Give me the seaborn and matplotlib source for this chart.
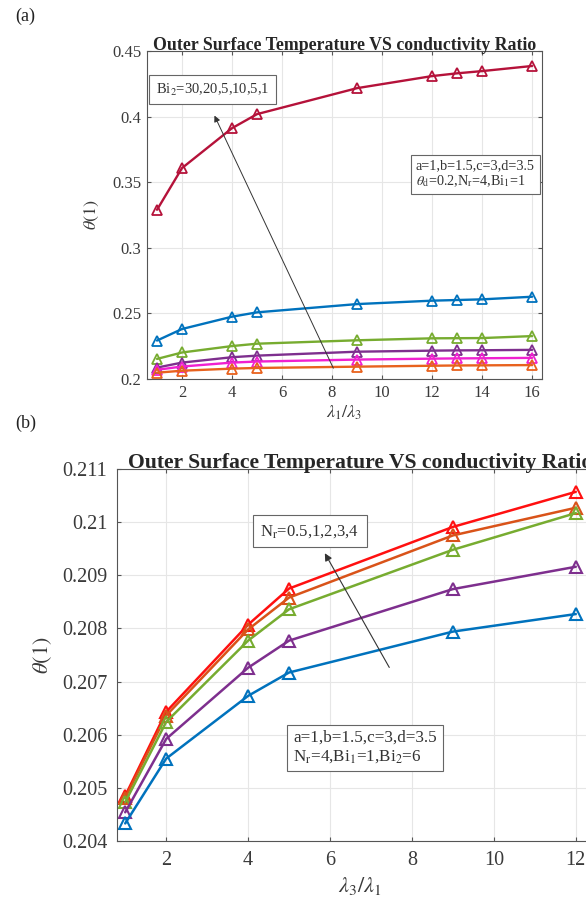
import numpy as np
import pandas as pd
import matplotlib
matplotlib.use("Agg")
import matplotlib.pyplot as plt
import seaborn as sns

# ---------------- data ----------------
x_a = [1, 2, 4, 5, 9, 12, 13, 14, 16]
a_red     = [0.3290, 0.3608, 0.3912, 0.4019, 0.4217, 0.4309, 0.4330, 0.4347, 0.4386]
a_blue    = [0.2293, 0.2381, 0.2475, 0.2508, 0.2571, 0.2597, 0.2602, 0.2607, 0.2627]
a_green   = [0.2153, 0.2202, 0.2251, 0.2269, 0.2295, 0.2310, 0.2311, 0.2312, 0.2327]
a_purple  = [0.2087, 0.2125, 0.2166, 0.2178, 0.2208, 0.2216, 0.2218, 0.2219, 0.2222]
a_magenta = [0.2070, 0.2095, 0.2125, 0.2133, 0.2148, 0.2155, 0.2157, 0.2158, 0.2161]
a_orange  = [0.2048, 0.2063, 0.2079, 0.2084, 0.2094, 0.2101, 0.2103, 0.2104, 0.2106]
a_names   = ["Bi2=30", "Bi2=20", "Bi2=10", "Bi2=5", "Bi2=5b", "Bi2=1"]
a_colors  = ["#B5123A", "#0072BD", "#77AC30", "#7E2F8E", "#F020D0", "#E8621E"]

x_b = [1, 2, 4, 5, 9, 12]
b_red    = [0.20485, 0.20643, 0.20807, 0.20875, 0.20991, 0.21057]
b_orange = [0.20481, 0.20636, 0.20798, 0.20858, 0.20975, 0.21027]
b_green  = [0.20473, 0.20624, 0.20777, 0.20836, 0.20948, 0.21017]
b_purple = [0.20454, 0.20592, 0.20726, 0.20777, 0.20874, 0.20916]
b_blue   = [0.20433, 0.20555, 0.20673, 0.20717, 0.20794, 0.20827]
b_names  = ["Nr=4", "Nr=3", "Nr=2", "Nr=1", "Nr=0.5"]
b_colors = ["#FF1010", "#D95319", "#77AC30", "#7E2F8E", "#0072BD"]

a_yticks = [0.2, 0.25, 0.3, 0.35, 0.4, 0.45]
a_yticklabels = ["0.2", "0.25", "0.3", "0.35", "0.4", "0.45"]
a_xticks = [2, 4, 6, 8, 10, 12, 14, 16]
b_yticks = [0.204, 0.205, 0.206, 0.207, 0.208, 0.209, 0.21, 0.211]
b_yticklabels = ["0.204", "0.205", "0.206", "0.207", "0.208", "0.209", "0.21", "0.211"]
b_xticks = [2, 4, 6, 8, 10, 12]

title_txt = "Outer Surface Temperature VS conductivity Ratio"

# ---------------- style ----------------
sns.set_style("ticks")
plt.rcParams["font.family"] = ["Liberation Serif", "DejaVu Serif"]
plt.rcParams["mathtext.fontset"] = "stix"

df_a = pd.DataFrame({
    "x": np.tile(x_a, 6),
    "y": a_red + a_blue + a_green + a_purple + a_magenta + a_orange,
    "s": np.repeat(a_names, len(x_a)),
})
df_b = pd.DataFrame({
    "x": np.tile(x_b, 5),
    "y": b_red + b_orange + b_green + b_purple + b_blue,
    "s": np.repeat(b_names, len(x_b)),
})

fig = plt.figure(figsize=(5.86, 9.0), dpi=100)
ax1 = fig.add_axes([0.2509, 0.5789, 0.6741, 0.3644])
ax2 = fig.add_axes([0.1997, 0.0656, 0.8290, 0.4133])

grid_kw = dict(color="#E6E6E6", linewidth=0.8)

def style_axes(ax, fs, pad):
    ax.grid(True, **grid_kw)
    ax.set_axisbelow(True)
    for sp in ax.spines.values():
        sp.set_visible(True)
        sp.set_color("#555555")
        sp.set_linewidth(0.8)
    ax.tick_params(direction="in", top=True, right=True, length=3,
                   color="#555555", labelsize=fs, labelcolor="#3a3a3a", pad=pad)

# ---------------- panel (a) ----------------
sns.lineplot(data=df_a, x="x", y="y", hue="s", palette=a_colors, ax=ax1,
             legend=False, marker="^", markerfacecolor="none",
             markeredgewidth=1.3, markersize=7, linewidth=1.7)
for line, c in zip(ax1.get_lines(), a_colors):
    line.set_markeredgecolor(c)
ax1.set_xlim(0.6, 16.4)
ax1.set_ylim(0.2, 0.45)
ax1.set_xticks(a_xticks)
ax1.set_yticks(a_yticks)
ax1.set_yticklabels(a_yticklabels)
style_axes(ax1, 12, 4)
ax1.set_title(title_txt, fontsize=12.8, fontweight="bold", pad=1)
ax1.set_xlabel(r"$\lambda_1/\lambda_3$", fontsize=13, color="#3a3a3a", labelpad=2)
ax1.set_ylabel(r"$\theta(1)$", fontsize=13, color="#3a3a3a", labelpad=8)
ax1.annotate("", xy=(3.25, 0.4027), xytext=(8.1, 0.2063),
             arrowprops=dict(arrowstyle="-|>", color="#333333", lw=0.7,
                             mutation_scale=9))
ax1.text(0.95, 0.4205, r"Bi$_2$=30,20,5,10,5,1", fontsize=10.5, va="center", ha="left",
         color="#333333",
         bbox=dict(boxstyle="square,pad=0.45", fc="white", ec="#666666", lw=0.8))
ax1.text(11.35, 0.3562, "a=1,b=1.5,c=3,d=3.5\n" + r"$\theta_{\rm d}$=0.2,N$_{\rm r}$=4,Bi$_1$=1",
         fontsize=10.2, va="center", ha="left", color="#333333", linespacing=1.1,
         bbox=dict(boxstyle="square,pad=0.35", fc="white", ec="#666666", lw=0.8))

# ---------------- panel (b) ----------------
sns.lineplot(data=df_b, x="x", y="y", hue="s", palette=b_colors, ax=ax2,
             legend=False, marker="^", markerfacecolor="none",
             markeredgewidth=1.5, markersize=9, linewidth=1.8)
for line, c in zip(ax2.get_lines(), b_colors):
    line.set_markeredgecolor(c)
ax2.set_xlim(0.8, 12.66)
ax2.set_ylim(0.204, 0.211)
ax2.set_xticks(b_xticks)
ax2.set_yticks(b_yticks)
ax2.set_yticklabels(b_yticklabels)
style_axes(ax2, 14.5, 7)
ax2.set_title(title_txt, fontsize=15.6, fontweight="bold", pad=1)
ax2.set_xlabel(r"$\lambda_3/\lambda_1$", fontsize=16, color="#3a3a3a", labelpad=4)
ax2.set_ylabel(r"$\theta(1)$", fontsize=16, color="#3a3a3a", labelpad=6)
ax2.annotate("", xy=(5.84, 0.20946), xytext=(7.48, 0.20722),
             arrowprops=dict(arrowstyle="-|>", color="#333333", lw=0.8,
                             mutation_scale=11))
ax2.text(4.3, 0.20983, r"N$_{\rm r}$=0.5,1,2,3,4", fontsize=12, va="center", ha="left",
         color="#333333",
         bbox=dict(boxstyle="square,pad=0.45", fc="white", ec="#666666", lw=0.8))
ax2.text(5.1, 0.20576, "a=1,b=1.5,c=3,d=3.5\n" + r"N$_{\rm r}$=4,Bi$_1$=1,Bi$_2$=6",
         fontsize=12.3, va="center", ha="left", color="#333333", linespacing=1.15,
         bbox=dict(boxstyle="square,pad=0.35", fc="white", ec="#666666", lw=0.8))

fig.text(15 / 586, 1 - 16 / 900, "(a)", fontsize=13, va="center", ha="left", color="#222222")
fig.text(15 / 586, 1 - 423 / 900, "(b)", fontsize=13, va="center", ha="left", color="#222222")

fig.savefig("out.png", dpi=100)
